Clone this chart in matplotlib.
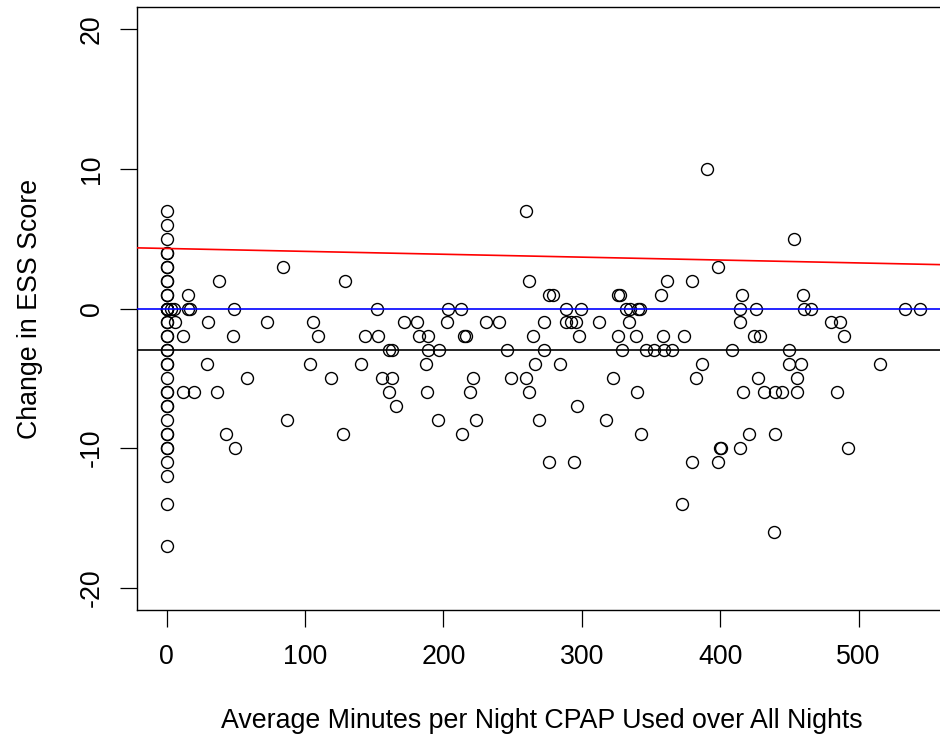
import numpy as np
import matplotlib.pyplot as plt

plt.rcParams['font.family'] = ['Liberation Sans', 'DejaVu Sans']
plt.rcParams['axes.unicode_minus'] = False

# patients with no CPAP use (x = 0)
zero_use_change = [7, 6, 5, 4, 4, 3, 3, 2, 2, 1, 1, 0, 0, 0, 0, -1, -1,
                   -2, -2, -3, -3, -4, -4, -5, -6, -6, -7, -7, -8, -9, -9,
                   -10, -10, -11, -12, -14, -17]

# patients with some use: (minutes, change in ESS)
minutes = [3, 5, 6, 15.6, 15.6, 17, 37.8, 84.3, 128.9, 48.9, 151.8,
           29.6, 72.8, 105.8, 171.6, 180.8,
           12, 47.7, 109.2, 143.6, 152.8, 182.2, 188.5,
           160.7, 162.7, 188.5, 196.9,
           28.9, 103.6, 140.7, 187.7,
           57.8, 118.6, 155.7, 163.1,
           12, 20, 36.6, 160.7, 188,
           166, 87, 42.9, 127.7, 49.6,
           259.6, 261.5, 361.8, 379.6, 276.4, 279.5, 326.5, 327.8, 357,
           203.6, 212.8, 288.7, 299.6, 331.9, 335, 340.3, 341.7,
           202.9, 230.9, 239.8, 272.8, 288.5, 292.3, 295.7, 312.6, 333.8,
           215, 216.2, 264.6, 297.6, 325.8, 338.8, 359, 373.5,
           245.7, 272.8, 328.7, 346.6, 352.4, 359.3, 365,
           265.8, 284.5, 386.5,
           221.7, 248.7, 259.8, 322.7, 382.3,
           219.5, 261.7, 339.6,
           296.7,
           195.7, 223.6, 268.7, 317.6,
           213.7, 342.7,
           276.6, 294.5, 379.7,
           372.7,
           390.7, 453.6, 398.6, 415.8, 459.6,
           414.5, 425.9, 460.3, 465.9, 533.8, 544.7,
           414.5, 480.1, 486.8,
           424.7, 428.5, 489.2,
           408.5, 449.5,
           449.5, 458.6, 515.2,
           427.3, 455.5,
           416.5, 431.4, 439.8, 444.9, 455.5, 484.4,
           420.5, 439.3,
           399.6, 400.6, 414.5, 492.6,
           398.4,
           438.6]
ess_change = [0, 0, -1, 1, 0, 0, 2, 3, 2, 0, 0,
              -1, -1, -1, -1, -1,
              -2, -2, -2, -2, -2, -2, -2,
              -3, -3, -3, -3,
              -4, -4, -4, -4,
              -5, -5, -5, -5,
              -6, -6, -6, -6, -6,
              -7, -8, -9, -9, -10,
              7, 2, 2, 2, 1, 1, 1, 1, 1,
              0, 0, 0, 0, 0, 0, 0, 0,
              -1, -1, -1, -1, -1, -1, -1, -1, -1,
              -2, -2, -2, -2, -2, -2, -2, -2,
              -3, -3, -3, -3, -3, -3, -3,
              -4, -4, -4,
              -5, -5, -5, -5, -5,
              -6, -6, -6,
              -7,
              -8, -8, -8, -8,
              -9, -9,
              -11, -11, -11,
              -14,
              10, 5, 3, 1, 1,
              0, 0, 0, 0, 0, 0,
              -1, -1, -1,
              -2, -2, -2,
              -3, -3,
              -4, -4, -4,
              -5, -5,
              -6, -6, -6, -6, -6, -6,
              -9, -9,
              -10, -10, -10, -10,
              -11,
              -16]

x = np.concatenate([np.zeros(len(zero_use_change)), minutes])
y = np.concatenate([zero_use_change, ess_change])

# reference lines
fit_intercept = 4.30
fit_slope = -0.00207
no_change = 0
mean_change = -3

fig = plt.figure(figsize=(9.4, 7.41), dpi=100)
ax = fig.add_axes([136.7 / 940, 131 / 741, 810 / 940, 603 / 741])

ax.plot(x, y, 'o', markersize=8.6, markerfacecolor='none',
        markeredgecolor='black', markeredgewidth=1.0, zorder=2)

ax.axline((0, fit_intercept), slope=fit_slope, color='#FF0000', lw=1.2, zorder=3)
ax.axhline(no_change, color='#0000FF', lw=1.2, zorder=3)
ax.axhline(mean_change, color='black', lw=1.2, zorder=3)

ax.set_xlim(-21.7, 563.7)
ax.set_ylim(-21.6, 21.6)
ax.set_xticks([0, 100, 200, 300, 400, 500])
ax.set_yticks([-20, -10, 0, 10, 20])
ax.tick_params(length=12, width=0.9, labelsize=19.3, direction='out')
ax.tick_params(axis='x', pad=12.5)
ax.tick_params(axis='y', pad=11, labelrotation=90)
for lab in ax.get_yticklabels():
    lab.set_va('center')

for s in ax.spines.values():
    s.set_linewidth(1.0)

ax.set_xlabel('Average Minutes per Night CPAP Used over All Nights',
              fontsize=19.3, labelpad=27)
ax.set_ylabel('Change in ESS Score', fontsize=19.3, labelpad=26)

fig.savefig('out.png', dpi=100)
